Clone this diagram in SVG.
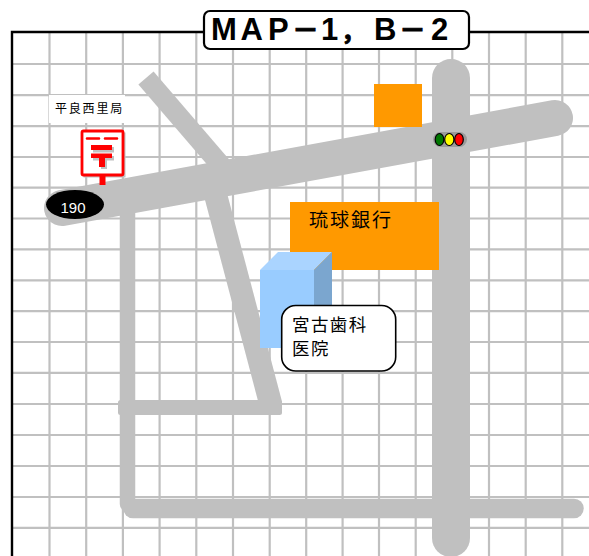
<svg xmlns="http://www.w3.org/2000/svg" width="589" height="556" viewBox="0 0 589 556">
<style>
.g{stroke:#c0c0c0;stroke-width:2.2;fill:none}
.r{stroke:#c0c0c0;fill:none}
.o{fill:#ff9900}
.t{font-family:"Liberation Sans","Noto Sans CJK JP",sans-serif;fill:#000}
.red{fill:#ff0000}
.d{font-size:27px;stroke:#000;stroke-width:.9px}
.c{font-size:24px;stroke:#000;stroke-width:.9px}
</style>
<rect width="589" height="556" fill="#fff"/>
<g id="grid">
<path class="g" d="M49.500 32V556M86.200 32V556M122.900 32V556M159.600 32V556M196.300 32V556M233 32V556M269.700 32V556M306.200 32V556M342.600 32V556M379 32V556M415.700 32V556M452.300 32V556M489 32V556M525.700 32V556M562.300 32V556"/>
<path class="g" d="M12 64H589M12 95.200H589M12 126.100H589M12 157H589M12 187.700H589M12 218.500H589M12 249.400H589M12 280.300H589M12 311.200H589M12 342H589M12 372.800H589M12 404H589M12 435H589M12 466H589M12 497H589M12 527.800H589"/>
<path d="M589 32H12V556" fill="none" stroke="#000" stroke-width="2.400"/>
</g>
<g id="roads">
<path class="r" d="M146 78L225 170" stroke-width="20"/>
<path class="r" d="M209 170L271 405" stroke-width="23"/>
<path class="r" d="M127.500 210V504" stroke-width="15.500" stroke-linecap="round"/>
<rect x="118" y="400" width="164" height="15" rx="2.500" fill="#c0c0c0"/>
<path class="r" d="M133 508.500H574" stroke-width="19.500" stroke-linecap="round"/>
<path class="r" d="M62 208L555 118" stroke-width="36" stroke-linecap="round"/>
<path class="r" d="M451 78V538" stroke-width="38" stroke-linecap="round"/>
</g>
<g id="orange-building">
<rect class="o" x="374" y="84" width="48" height="43"/>
</g>
<g id="bank">
<rect class="o" x="290" y="202" width="149" height="68"/>
<text class="t" x="309" y="226.500" font-size="19" letter-spacing="2">琉球銀行</text>
</g>
<g id="clinic-building">
<polygon points="260,270 278,252 332,252 314,270" fill="#aad4ff"/>
<polygon points="314,270 332,252 332,330 314,348" fill="#7ba6cf"/>
<rect x="260" y="270" width="54" height="78" fill="#99ccff"/>
</g>
<g id="clinic-label">
<rect x="281.700" y="305.500" width="114" height="65.500" rx="14" fill="#fff" stroke="#000" stroke-width="1.600"/>
<text class="t" x="292" y="331" font-size="17.500" letter-spacing="1.400">宮古歯科</text>
<text class="t" x="292" y="355" font-size="17.500" letter-spacing="1.400">医院</text>
</g>
<g id="title">
<rect x="204" y="11" width="265" height="38" rx="6" fill="#fff" stroke="#000" stroke-width="2.200"/>
<text class="t" y="40" font-size="31" font-weight="bold"><tspan x="211">M</tspan><tspan x="240.500">A</tspan><tspan x="268">P</tspan><tspan class="d" x="292">－</tspan><tspan x="321">1</tspan><tspan class="c" x="341">，</tspan><tspan x="374">B</tspan><tspan class="d" x="399">－</tspan><tspan x="431">2</tspan></text>
</g>
<g id="post-office-label">
<rect x="49" y="95" width="76" height="28" fill="#fff"/>
<text class="t" x="55" y="112.500" font-size="12" letter-spacing="1.800">平良西里局</text>
</g>
<g id="post-office">
<rect x="83.500" y="132.500" width="42" height="45" fill="#c0c0c0"/>
<rect x="82" y="131" width="41" height="44" fill="#fff" stroke="#ff0000" stroke-width="2.800" rx="1.500"/>
<path d="M93 147H114V152.500H93ZM93 156H114V160.500H107V169H101V160.500H93Z" fill="#c0c0c0"/>
<path class="red" d="M91 145H112V150H91ZM91 153.500H112V158H105V167H99V158H91Z"/>
<path d="M87 138.500H99M105 138.500H117" stroke="#ff0000" stroke-width="2.600" stroke-linecap="round"/>
<rect class="red" x="99.500" y="175" width="6" height="10"/>
</g>
<g id="route-190">
<ellipse cx="75" cy="204.500" rx="29" ry="14.500"/>
<text x="60.500" y="213" font-size="15" fill="#fff" font-family="Liberation Sans,sans-serif">190</text>
</g>
<g id="signal">
<rect x="433" y="132" width="34" height="15" rx="7.500" fill="#8c8c8c" opacity=".7"/>
<ellipse cx="439.500" cy="139.500" rx="4.300" ry="6" fill="#007700" stroke="#000" stroke-width="1.200"/>
<ellipse cx="449.300" cy="139.500" rx="4.600" ry="6" fill="#ffff00" stroke="#000" stroke-width="1.200"/>
<ellipse cx="459" cy="139.500" rx="4.300" ry="6" fill="#ff0000" stroke="#000" stroke-width="1.200"/>
</g>
</svg>
